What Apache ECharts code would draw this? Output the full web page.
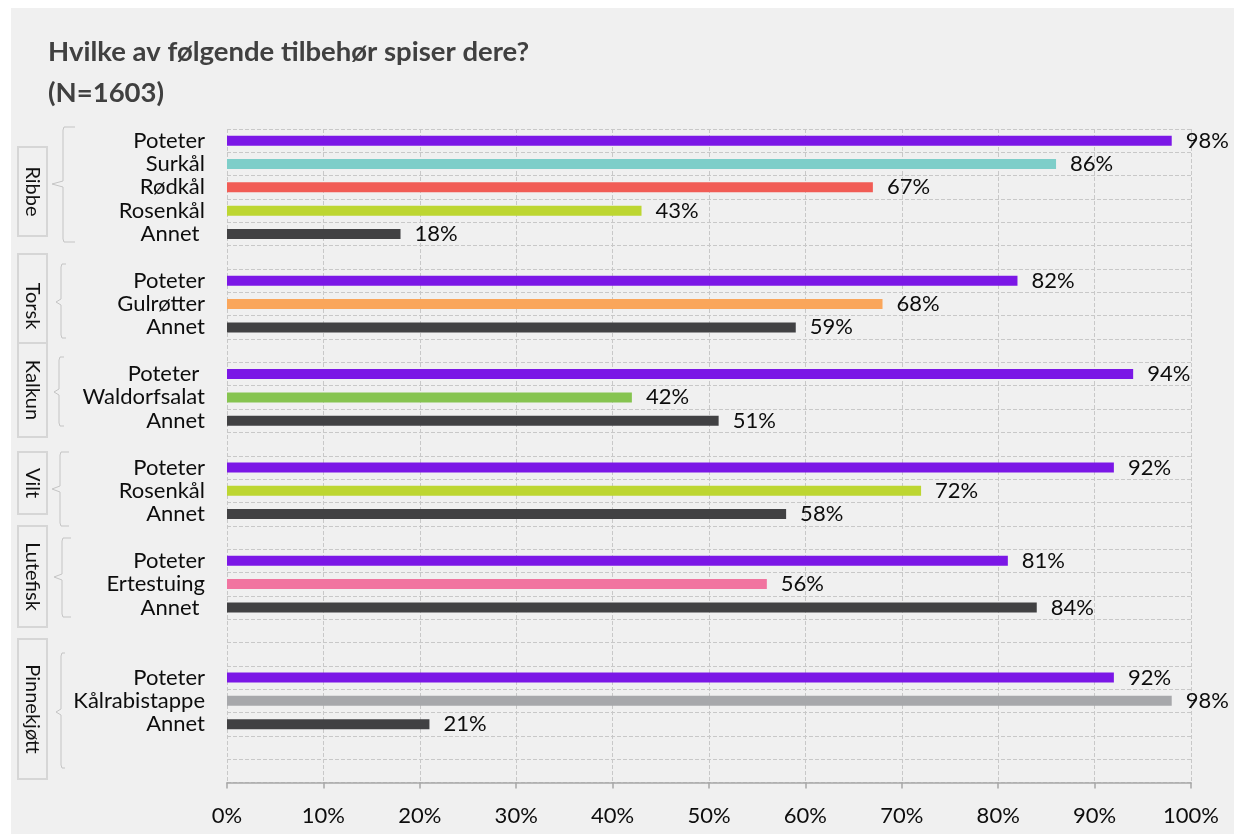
<!DOCTYPE html>
<html>
<head>
<meta charset="utf-8">
<script src="https://cdn.jsdelivr.net/npm/echarts@6/dist/echarts.min.js"></script>
<style>
html,body{margin:0;padding:0;background:#ffffff;}
#panel{position:absolute;left:11px;top:8px;width:1223px;height:826px;background:#f0f0f0;}
#chart{position:absolute;left:0;top:0;width:1235px;height:835px;}
</style>
</head>
<body>
<div id="panel"></div>
<div id="chart"></div>
<script>
// ---- data ----
const titleText = 'Hvilke av følgende tilbehør spiser dere?\n(N=1603)';
const categories = [
  'Poteter','Surkål','Rødkål','Rosenkål','Annet ','',
  'Poteter','Gulrøtter','Annet','',
  'Poteter ','Waldorfsalat','Annet','',
  'Poteter','Rosenkål','Annet','',
  'Poteter','Ertestuing','Annet ','','',
  'Poteter','Kålrabistappe','Annet','',''
];
const values = [
  98,86,67,43,18,null,
  82,68,59,null,
  94,42,51,null,
  92,72,58,null,
  81,56,84,null,null,
  92,98,21,null,null
];
const groupNames = ['Ribbe','Torsk','Kalkun','Vilt','Lutefisk','Pinnekjøtt'];
const xTicks = [0,10,20,30,40,50,60,70,80,90,100];

// ---- styles ----
const colorMap = {
  'Poteter':'#7B17E6','Surkål':'#7ECEC9','Rødkål':'#F15C55','Rosenkål':'#BDD631',
  'Annet':'#414143','Gulrøtter':'#FAA65B','Waldorfsalat':'#86C450',
  'Ertestuing':'#F174A0','Kålrabistappe':'#A7A8AB'
};
// decoration layout for group labels: box [x,y,w,h], brace {x,top,bottom,mid,hook,tick}
const groupLayout = [
  {box:[18,147,29,89],  br:{x:63,top:127,bottom:242,mid:184,hook:75,tick:52}},
  {box:[18,254,29,104], br:{x:61,top:264,bottom:338,mid:302,hook:66,tick:56}},
  {box:[18,343,29,94],  br:{x:59,top:357,bottom:426,mid:392,hook:64,tick:54}},
  {box:[18,452,29,62],  br:{x:60,top:452,bottom:526,mid:489,hook:69,tick:52}},
  {box:[18,526,29,101], br:{x:62,top:538,bottom:617,mid:577,hook:71,tick:54}},
  {box:[18,639,29,140], br:{x:61,top:653,bottom:768,mid:712,hook:65,tick:56}}
];
const FONT = 'Lato, "Open Sans", sans-serif';

function bracePoints(b){
  const r = 3;
  return [[b.hook,b.top],[b.x+1,b.top],[b.x,b.top+r],[b.x,b.mid-r],[b.tick,b.mid],
          [b.x,b.mid+r],[b.x,b.bottom-r],[b.x+1,b.bottom],[b.hook,b.bottom]];
}

const graphics = [];
groupNames.forEach(function(name, i){
  const L = groupLayout[i];
  graphics.push({type:'rect', shape:{x:L.box[0],y:L.box[1],width:L.box[2],height:L.box[3]},
    style:{fill:'#f0f0f0',stroke:'#d6d6d6',lineWidth:2}, z:10});
  graphics.push({type:'text', x:L.box[0]+L.box[2]/2, y:L.box[1]+L.box[3]/2, rotation:-Math.PI/2,
    style:{text:name, fill:'#111111', font:'20px '+FONT, align:'center', verticalAlign:'middle'}, z:11});
  graphics.push({type:'polyline', shape:{points:bracePoints(L.br)},
    style:{fill:null, stroke:'#c4c4c4', lineWidth:1}, z:10});
});

const chart = echarts.init(document.getElementById('chart'), null, {renderer:'canvas'});
chart.setOption({
  backgroundColor:'transparent',
  animation:false,
  textStyle:{fontFamily:FONT},
  title:{text:titleText, left:48, top:32, padding:0,
    textStyle:{fontSize:27.5, fontWeight:'bold', color:'#404040', lineHeight:41, fontFamily:FONT}},
  grid:{left:227, right:44, top:129, bottom:52.5},
  xAxis:{type:'value', min:xTicks[0], max:xTicks[xTicks.length-1], interval:10,
    axisLine:{show:true, lineStyle:{color:'#a6a6a6', width:1.5}},
    axisTick:{show:true, length:6, lineStyle:{color:'#a6a6a6', width:1.5}},
    axisLabel:{formatter:'{value}%', fontSize:22, color:'#0d0d0d', margin:22, fontFamily:FONT},
    splitLine:{show:true, lineStyle:{color:'#c8c8c8', type:[4,2], width:1}}
  },
  yAxis:{type:'category', inverse:true, data:categories,
    axisLine:{show:false}, axisTick:{show:false},
    axisLabel:{interval:0, fontSize:22, color:'#0d0d0d', margin:22, fontFamily:FONT},
    splitLine:{show:true, interval:0, lineStyle:{color:'#c8c8c8', type:[4,2], width:1}}
  },
  series:[{
    type:'bar', barWidth:10,
    data: values.map(function(v,i){
      if (v === null) return '-';
      return {value:v, itemStyle:{color:colorMap[categories[i].trim()]}};
    }),
    label:{show:true, position:'right', distance:14, formatter:'{c}%', fontSize:22, color:'#0d0d0d', fontFamily:FONT}
  }],
  graphic: graphics
});
</script>
</body>
</html>
